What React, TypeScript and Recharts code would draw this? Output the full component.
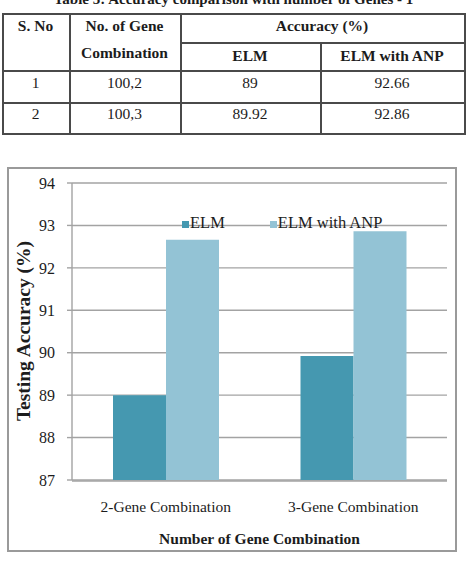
import React from 'react';
import { BarChart, Bar, XAxis, YAxis, CartesianGrid } from 'recharts';

// Accuracy of ELM vs ELM with ANP for gene combinations
const categories = ['2-Gene Combination', '3-Gene Combination'];
const serialNos = ['1', '2'];
const geneCombos = ['100,2', '100,3'];
const elmValues = [89, 89.92];
const elmAnpValues = [92.66, 92.86];
const yTicks = [87, 88, 89, 90, 91, 92, 93, 94];
const seriesNames = ['ELM', 'ELM with ANP'];
const seriesColors = ['#4598b0', '#93c3d5'];

const chartData = categories.map((name, i) => ({
  name,
  elm: elmValues[i],
  anp: elmAnpValues[i],
}));

const SERIF = "'Liberation Serif', 'Times New Roman', Times, serif";
const INK = '#1c1c1c';
const TABLE_LINE = '#4a4a4a';
const GRID = '#a3a3a3';

type LineProps = { x: number; y: number; w: number; h: number };
const Rule = ({ x, y, w, h }: LineProps) => (
  <div style={{ position: 'absolute', left: x, top: y, width: w, height: h, background: TABLE_LINE }} />
);

type CellProps = { x: number; w: number; cy: number; text: string; bold?: boolean; size?: number };
const CellText = ({ x, w, cy, text, bold, size = 15.5 }: CellProps) => (
  <div
    style={{
      position: 'absolute',
      left: x,
      top: cy - 12,
      width: w,
      height: 24,
      lineHeight: '24px',
      textAlign: 'center',
      fontFamily: SERIF,
      fontSize: size,
      fontWeight: bold ? 700 : 400,
      color: INK,
      whiteSpace: 'nowrap',
    }}
  >
    {text}
  </div>
);

function AccuracyTable() {
  const L = 2;
  const R = 464;
  const T = 13;
  const B = 133;
  const c1 = 69;
  const c2 = 180;
  const c3 = 320;
  const t = 1.5;
  const rowCenters = [83, 114];
  return (
    <>
      {/* horizontal rules */}
      <Rule x={L} y={T} w={R - L} h={t} />
      <Rule x={c2} y={42} w={R - c2} h={t} />
      <Rule x={L} y={70} w={R - L} h={t} />
      <Rule x={L} y={102} w={R - L} h={t} />
      <Rule x={L} y={B} w={R - L + t} h={t} />
      {/* vertical rules */}
      <Rule x={L} y={T} w={t} h={B - T} />
      <Rule x={c1} y={T} w={t} h={B - T} />
      <Rule x={c2} y={T} w={t} h={B - T} />
      <Rule x={c3} y={42} w={t} h={B - 42} />
      <Rule x={R} y={T} w={t} h={B - T} />

      <CellText x={L} w={c1 - L} cy={26} text="S. No" bold />
      <CellText x={c1} w={c2 - c1} cy={26} text="No. of Gene" bold />
      <CellText x={c1} w={c2 - c1} cy={53} text="Combination" bold />
      <CellText x={c2} w={R - c2} cy={26} text="Accuracy (%)" bold />
      <CellText x={c2} w={c3 - c2} cy={56} text={seriesNames[0]} bold />
      <CellText x={c3} w={R - c3} cy={56} text={seriesNames[1]} bold />

      {serialNos.map((s, i) => (
        <React.Fragment key={s}>
          <CellText x={L} w={c1 - L} cy={rowCenters[i]} text={s} />
          <CellText x={c1} w={c2 - c1} cy={rowCenters[i]} text={geneCombos[i]} />
          <CellText x={c2} w={c3 - c2} cy={rowCenters[i]} text={String(elmValues[i])} />
          <CellText x={c3} w={R - c3} cy={rowCenters[i]} text={String(elmAnpValues[i])} />
        </React.Fragment>
      ))}
    </>
  );
}

export default function App() {
  return (
    <div
      style={{
        position: 'absolute',
        left: 0,
        top: 0,
        width: 467,
        height: 561,
        background: '#ffffff',
        overflow: 'hidden',
      }}
    >
      {/* table caption, running off the top edge */}
      <div
        style={{
          position: 'absolute',
          left: 0,
          top: -8,
          width: 467,
          textAlign: 'center',
          fontFamily: SERIF,
          fontSize: 15,
          lineHeight: '15px',
          fontWeight: 700,
          color: INK,
          whiteSpace: 'nowrap',
        }}
      >
        Table 5: Accuracy comparison with number of Genes - 1
      </div>

      <AccuracyTable />

      {/* chart frame */}
      <div
        style={{
          position: 'absolute',
          left: 7,
          top: 167,
          width: 446,
          height: 381,
          border: '2px solid #9a9a9a',
        }}
      />

      <div style={{ position: 'absolute', left: 8, top: 168 }}>
        <BarChart
          width={446}
          height={381}
          data={chartData}
          margin={{ top: 15, right: 7, bottom: 67, left: 4 }}
          barGap={0}
        >
          <CartesianGrid vertical={false} stroke={GRID} strokeWidth={1.4} />
          <XAxis
            dataKey="name"
            height={1}
            axisLine={false}
            tickLine={false}
            tickSize={0}
            tickMargin={21}
            interval={0}
            tick={{ fontFamily: SERIF, fontSize: 15.5, fill: INK }}
          />
          <XAxis
            xAxisId="edge"
            type="number"
            domain={[0, categories.length]}
            ticks={categories.map((_, i) => i).concat([categories.length])}
            height={1}
            tick={false}
            tickSize={6}
            axisLine={{ stroke: GRID, strokeWidth: 1.4 }}
            tickLine={{ stroke: GRID, strokeWidth: 1.4 }}
          />
          <YAxis
            width={60}
            domain={[87, 94]}
            ticks={yTicks}
            interval={0}
            tickSize={5}
            tickMargin={12}
            axisLine={{ stroke: GRID, strokeWidth: 1.4 }}
            tickLine={{ stroke: GRID, strokeWidth: 1.4 }}
            tick={{ fontFamily: SERIF, fontSize: 16, fill: INK }}
          />
          <Bar dataKey="elm" name={seriesNames[0]} fill={seriesColors[0]} barSize={53} isAnimationActive={false} />
          <Bar dataKey="anp" name={seriesNames[1]} fill={seriesColors[1]} barSize={53} isAnimationActive={false} />
        </BarChart>
      </div>

      {/* legend */}
      <div
        style={{
          position: 'absolute',
          left: 182,
          top: 213,
          display: 'flex',
          alignItems: 'center',
          gap: 45,
          fontFamily: SERIF,
          fontSize: 16.5,
          color: INK,
          whiteSpace: 'nowrap',
        }}
      >
        {seriesNames.map((n, i) => (
          <div key={n} style={{ display: 'flex', alignItems: 'center' }}>
            <span
              style={{
                display: 'inline-block',
                width: 7,
                height: 7,
                background: seriesColors[i],
                marginRight: 1,
                marginTop: 3,
              }}
            />
            <span style={{ lineHeight: '19px' }}>{n}</span>
          </div>
        ))}
      </div>

      {/* y-axis title */}
      <div
        style={{
          position: 'absolute',
          left: 24,
          top: 331,
          transform: 'translate(-50%, -50%) rotate(-90deg)',
          fontFamily: SERIF,
          fontSize: 19.5,
          fontWeight: 700,
          color: INK,
          whiteSpace: 'nowrap',
        }}
      >
        Testing Accuracy (%)
      </div>

      {/* x-axis title */}
      <div
        style={{
          position: 'absolute',
          left: 259.5,
          top: 539,
          transform: 'translate(-50%, -50%)',
          fontFamily: SERIF,
          fontSize: 15.5,
          fontWeight: 700,
          color: INK,
          whiteSpace: 'nowrap',
        }}
      >
        Number of Gene Combination
      </div>
    </div>
  );
}
